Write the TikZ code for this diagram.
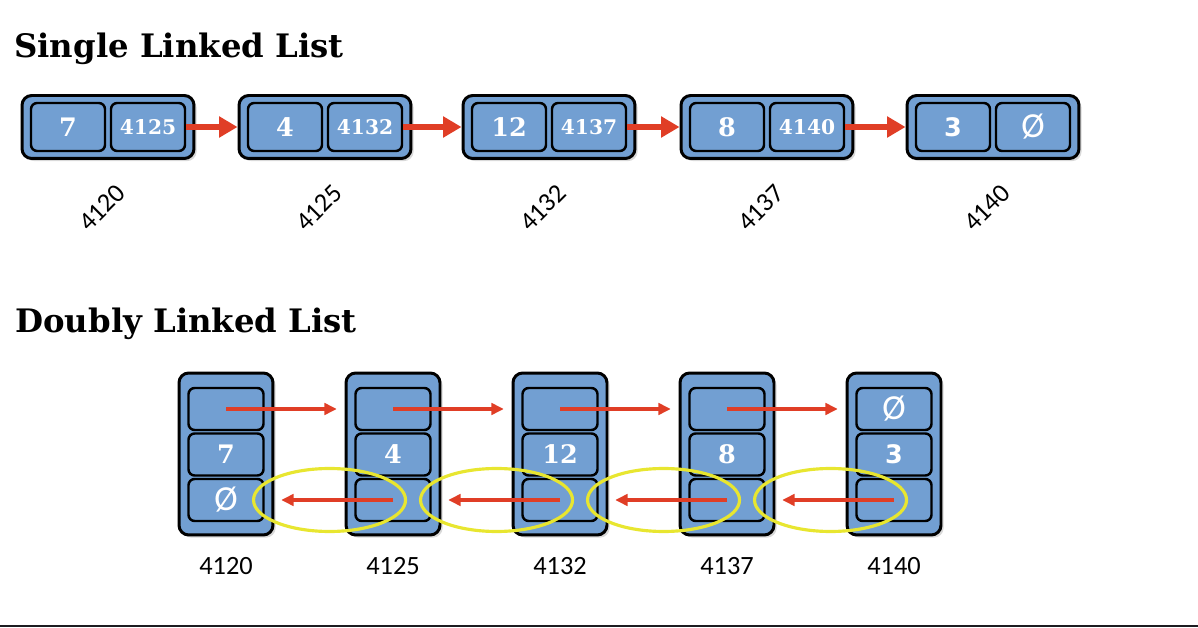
\documentclass[tikz,border=0pt]{standalone}
\usepackage{fontspec}
\setmainfont{DejaVu Serif}
\newfontfamily\labelfont{Carlito}
\newfontfamily\numsans{DejaVu Sans}
\usepackage{xcolor}
\usepackage{tikz}
\usetikzlibrary{arrows.meta}
\usetikzlibrary{positioning}
\usetikzlibrary{shadows}

\definecolor{cellblue}{RGB}{114,159,210}
\definecolor{linkred}{RGB}{224,62,38}
\definecolor{ringyellow}{RGB}{232,230,48}
\definecolor{darkline}{RGB}{28,28,32}

\newcommand{\bignum}{\bfseries\fontsize{14.5}{16}\selectfont}
\newcommand{\smallnum}{\bfseries\fontsize{11.5}{13}\selectfont}
\newcommand{\nullsym}{{\labelfont\mdseries\fontsize{20}{20}\selectfont Ø}}
\newcommand{\sansthree}{{\numsans\bfseries 3}}

\begin{document}
\begin{tikzpicture}[x=0.02cm, y=-0.02cm,
    outerbox/.style={draw=black, line width=1.7pt, fill=cellblue, rounded corners=5.5pt, inner sep=0pt,
        drop shadow={shadow xshift=1.5pt, shadow yshift=-1.5pt, opacity=0.3}},
    cellbox/.style={draw=black, line width=1.4pt, fill=cellblue, rounded corners=3.5pt, inner sep=0pt,
        text=white, font=\bignum},
    titletext/.style={anchor=base west, inner sep=0pt, font=\bfseries\fontsize{18.4}{21}\selectfont},
    addrtext/.style={inner sep=0pt, font=\labelfont\fontsize{15}{17}\selectfont},
    nextlink/.style={draw=linkred, line width=3.4pt, -{Triangle[length=10.5pt, width=11.5pt]}},
    dlink/.style={draw=linkred, line width=2pt, -{Triangle[length=7pt, width=6.5pt]}},
    ring/.style={draw=ringyellow, line width=1.8pt}]

    \useasboundingbox (0,0) rectangle (1198,628);

    % Single linked list
    \node[titletext] (stitle) at (14,58) {Single Linked List};

    \foreach \i/\x/\v/\p/\a in {1/108/7/4125/4120, 2/325/4/4132/4125, 3/549/12/4137/4132,
                                4/767/8/4140/4137, 5/993/\sansthree/\nullsym/4140} {
        \node[outerbox, minimum width=3.44cm, minimum height=1.26cm] (sbox\i) at (\x,127) {};
        \node[cellbox, minimum width=1.48cm, minimum height=0.96cm] (sval\i) at (\x-40,127) {\v};
        \node[cellbox, minimum width=1.48cm, minimum height=0.96cm, font=\smallnum] (sptr\i) at (\x+40,127) {\p};
        \node[addrtext, rotate=45] (saddr\i) at (\x-6,208) {\a};
    }

    % Enlaces
    \foreach \i/\j in {1/2, 2/3, 3/4, 4/5}
        \draw[nextlink] (sptr\i.east) -- (sbox\j.west);

    % Doubly linked list
    \node[titletext] (dtitle) at (15,333) {Doubly Linked List};

    \foreach \i/\x/\n/\v/\p/\a in {1/226/{}/7/\nullsym/4120, 2/393/{}/4/{}/4125, 3/560/{}/12/{}/4132,
                                   4/727/{}/8/{}/4137, 5/894/\nullsym/\sansthree/{}/4140} {
        \node[outerbox, minimum width=1.88cm, minimum height=3.24cm] (dbox\i) at (\x,454) {};
        \node[cellbox, minimum width=1.5cm, minimum height=0.84cm] (dnext\i) at (\x,409) {\n};
        \node[cellbox, minimum width=1.5cm, minimum height=0.84cm] (dval\i) at (\x,454.5) {\v};
        \node[cellbox, minimum width=1.5cm, minimum height=0.84cm] (dprev\i) at (\x,500) {\p};
        \node[addrtext] (daddr\i) at (\x,566) {\a};
    }

    % Anillos amarillos
    \foreach \i/\j in {1/2, 2/3, 3/4, 4/5} {
        \path (dprev\i.center) -- (dprev\j.center) coordinate[pos=0.62] (rc\i);
        \draw[ring] (rc\i) ellipse [x radius=1.52cm, y radius=0.63cm];
    }

    % Enlaces dobles
    \foreach \i/\j in {1/2, 2/3, 3/4, 4/5} {
        \draw[dlink] (dnext\i.center) -- ([xshift=-0.35cm]dnext\j.west);
        \draw[dlink] (dprev\j.center) -- ([xshift=0.33cm]dprev\i.east);
    }

    % Linea inferior
    \draw[darkline, line width=1.7pt] (0,626) -- (1198,626);
\end{tikzpicture}
\end{document}
